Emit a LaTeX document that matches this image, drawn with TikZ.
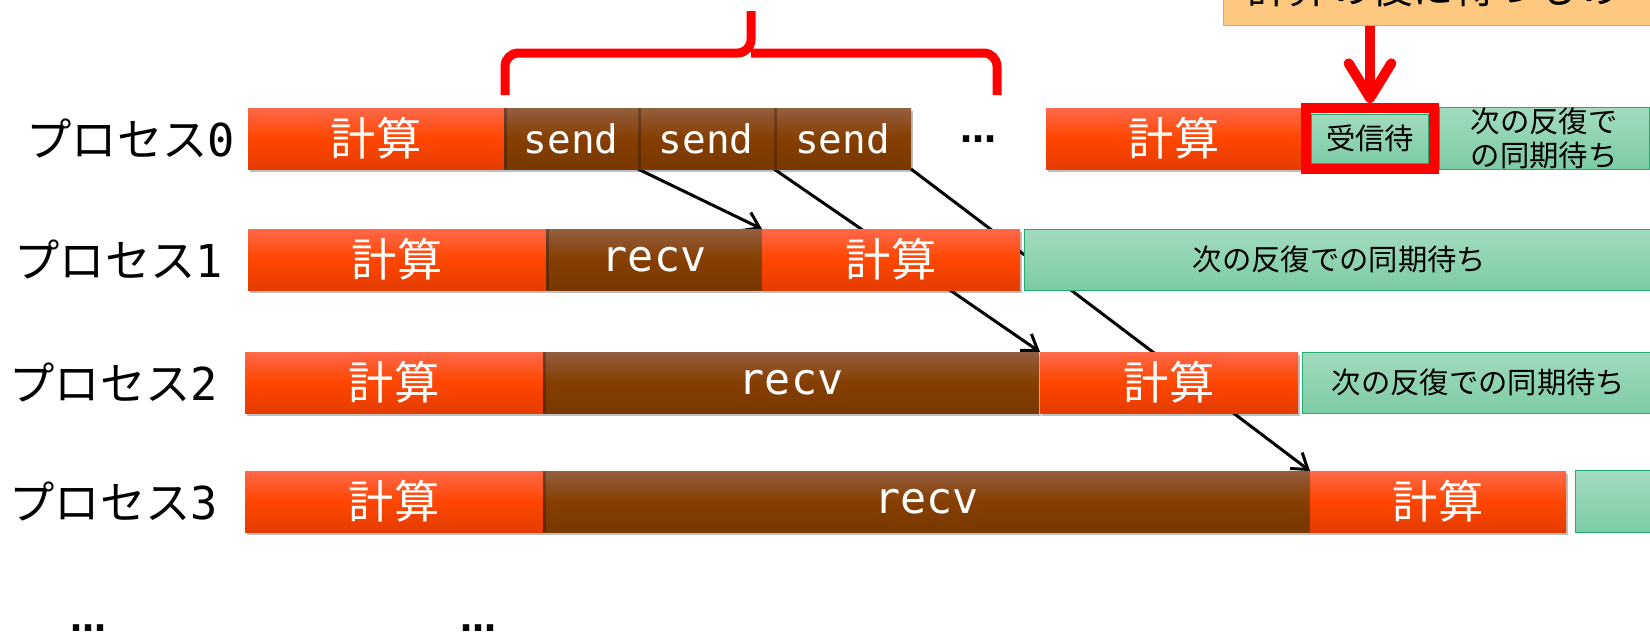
\documentclass[tikz,border=0pt]{standalone}
\usepackage{fontspec}
\setmainfont{Noto Sans CJK JP}
\newfontfamily\monofont{DejaVu Sans Mono}
\newfontfamily\dotfont{DejaVu Sans}
\usetikzlibrary{positioning,arrows.meta,shadows,backgrounds}

\definecolor{calctop}{RGB}{255,104,74}
\definecolor{calcmid}{RGB}{255,70,0}
\definecolor{calcbot}{RGB}{228,60,0}
\definecolor{commtop}{RGB}{148,94,64}
\definecolor{commmid}{RGB}{134,62,0}
\definecolor{commbot}{RGB}{120,56,0}
\definecolor{waittop}{RGB}{162,219,190}
\definecolor{waitbot}{RGB}{124,204,164}
\definecolor{waitline}{RGB}{34,172,112}
\definecolor{notefill}{RGB}{255,200,128}
\definecolor{noteline}{RGB}{245,166,35}

\tikzset{every picture/.style={line width=0.75pt}}
\tikzset{
  bar/.style={anchor=north west, inner sep=0pt, outer sep=0pt, minimum height=45.75pt,
    drop shadow={shadow xshift=1.5pt, shadow yshift=-2.5pt, opacity=0.25, fill=black}},
  calcbar/.style={bar, top color=calctop, bottom color=calcbot, middle color=calcmid,
    text=white, font=\fontsize{34}{34}\selectfont},
  sendbar/.style={bar, top color=commtop, bottom color=commbot, middle color=commmid,
    text=white, font=\monofont\fontsize{29.5}{29.5}\selectfont,
    path picture={\fill[black, opacity=0.25] (path picture bounding box.north west)
      rectangle ([xshift=2pt]path picture bounding box.south west);}},
  recvbar/.style={sendbar, font=\monofont\fontsize{32.5}{32.5}\selectfont},
  waitbox/.style={anchor=north west, inner sep=0pt, outer sep=0pt, minimum height=45.75pt,
    draw=waitline, top color=waittop, bottom color=waitbot, text=black,
    font=\fontsize{22}{25.5}\selectfont},
  waitframe/.style={draw=red, line width=7.5pt, minimum width=96pt, minimum height=45.75pt, inner sep=0pt},
  proclabel/.style={anchor=west, inner sep=0pt, font=\fontsize{34}{34}\selectfont},
  dotmark/.style={inner sep=0pt, font=\dotfont\bfseries\fontsize{27}{27}\selectfont},
  msg/.style={line width=2.25pt, -{Straight Barb[length=11pt,width=15pt]}},
  hint/.style={draw=red, line width=7.5pt, -{Straight Barb[length=26pt,width=32pt,round]}},
  bracket/.style={draw=red, line width=6.75pt, rounded corners=10pt},
}

\begin{document}
\begin{tikzpicture}[x=0.75pt,y=0.75pt,yscale=-1,xscale=1]
\useasboundingbox (0,0) rectangle (1650,637);
\clip (0,0) rectangle (1650,637);

% Process labels
\node[proclabel] (p0) at (26,138.5) {プロセス{\monofont 0}};
\node[proclabel] (p1) at (14,259.5) {プロセス{\monofont 1}};
\node[proclabel] (p2) at (9,382.5) {プロセス{\monofont 2}};
\node[proclabel] (p3) at (9,501.5) {プロセス{\monofont 3}};

% Row 0
\node[calcbar, minimum width=192pt] (c0a) at (248,108) {計算};
\node[sendbar, minimum width=100.5pt, right=0pt of c0a] (s0a) {send};
\node[sendbar, minimum width=102pt, right=0pt of s0a] (s0b) {send};
\node[sendbar, minimum width=102.75pt, right=0pt of s0b] (s0c) {send};
\node[dotmark] (d0) at (978,139) {…};
\node[calcbar, minimum width=192pt] (c0b) at (1046,108) {計算};
\node[waitframe] (fr0) at (1370,138.5) {};
\node[waitbox, anchor=center, minimum width=87.75pt, minimum height=36.75pt] (w0) at (fr0.center) {受信待};
\node[waitbox, align=center, minimum width=157.5pt, right=0pt of fr0] (g0) {次の反復で\\の同期待ち};

% Row 1
\node[calcbar, minimum width=223.5pt] (c1a) at (248,229) {計算};
\node[recvbar, minimum width=162pt, right=0pt of c1a] (r1) {recv};
\node[calcbar, minimum width=193.5pt, right=0pt of r1] (c1b) {計算};
\node[waitbox, minimum width=473.25pt, right=3pt of c1b] (g1) {次の反復での同期待ち};

% Row 2
\node[calcbar, minimum width=223.5pt] (c2a) at (245,352) {計算};
\node[recvbar, minimum width=372pt, right=0pt of c2a] (r2) {recv};
\node[calcbar, minimum width=193.5pt, right=0.75pt of r2] (c2b) {計算};
\node[waitbox, minimum width=264.75pt, right=3pt of c2b] (g2) {次の反復での同期待ち};

% Row 3
\node[calcbar, minimum width=223.5pt] (c3a) at (245,471) {計算};
\node[recvbar, minimum width=575.25pt, right=0pt of c3a] (r3) {recv};
\node[calcbar, minimum width=192pt, right=0pt of r3] (c3b) {計算};
\node[waitbox, minimum width=60pt, minimum height=46.5pt, right=6.75pt of c3b] (g3) {};

% Trailing dots
\node[dotmark] (dA) at (88,628) {…};
\node[dotmark] (dB) at (478,628) {…};

% Messages
\begin{scope}[on background layer]
\draw[msg] (s0a.south east) -- (c1b.north west);
\draw[msg] (s0b.south east) -- (c2b.north west);
\draw[msg] (s0c.south east) -- (c3b.north west);
\end{scope}

% Brace over the sends
\draw[bracket] (505,95) -- (505,53) -- (751,53) -- (751,11);
\draw[bracket] (997,95) -- (997,53) -- (751,53);

% Note and pointer
\node[anchor=south west, draw=noteline, fill=notefill, inner xsep=18pt, inner ysep=0pt,
  minimum height=57pt, text width=315pt, align=left, font=\fontsize{31}{31}\selectfont]
  (note) at (1223,26) {計算の後に待つもの};
\draw[hint] (fr0.north |- note.south) -- (fr0.north);

\end{tikzpicture}
\end{document}
